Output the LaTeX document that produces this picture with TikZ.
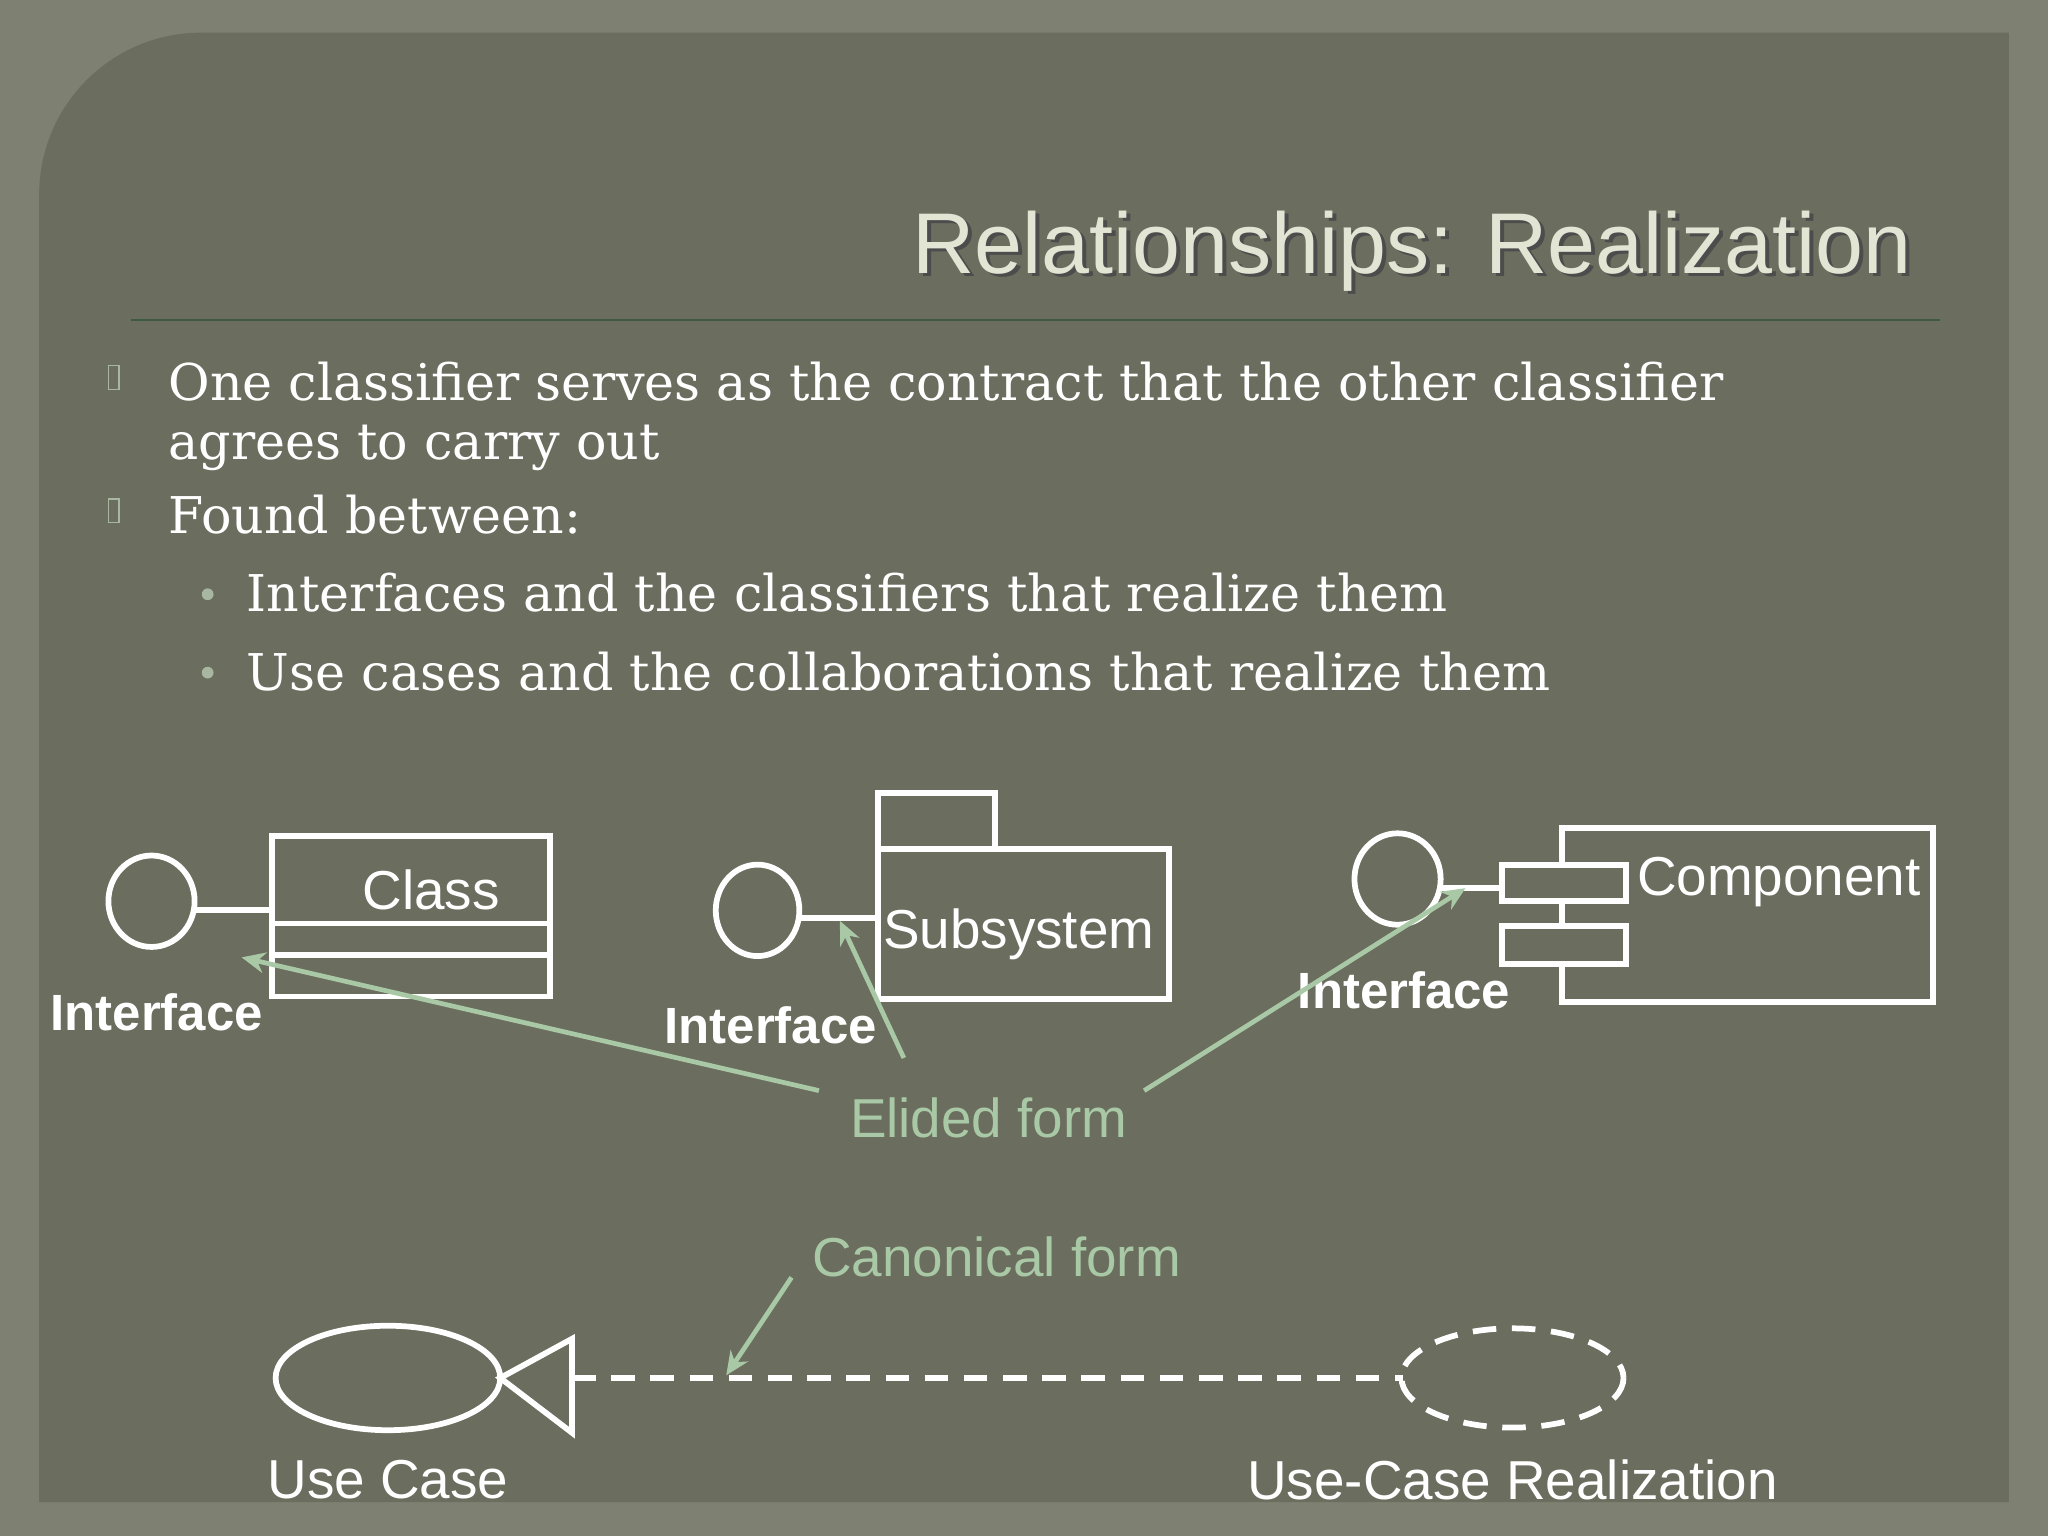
\documentclass[tikz,border=0pt]{standalone}
\usepackage{fontspec}
\setmainfont{DejaVu Serif}
\newfontfamily\lsans{Liberation Sans}
\usetikzlibrary{arrows.meta}
\definecolor{outerbg}{HTML}{7E8171}
\definecolor{panel}{HTML}{6B6D5E}
\definecolor{titlec}{HTML}{E2E4D4}
\definecolor{ruleg}{HTML}{3E5A40}
\definecolor{callout}{HTML}{A9C9A6}
\definecolor{bulletc}{HTML}{A8B8A0}
\begin{document}
\begin{tikzpicture}[x=0.5pt,y=-0.5pt,
  wl/.style={draw=white,line width=2.2pt},
  lab/.style={font=\lsans\fontsize{21}{25}\selectfont,text=white},
  blab/.style={font=\lsans\bfseries\fontsize{19.5}{23}\selectfont,text=white},
  body/.style={font=\fontsize{19.4}{25}\selectfont,text=white,anchor=west},
  call/.style={font=\lsans\fontsize{21}{25}\selectfont,text=callout},
  carr/.style={draw=callout,line width=1.8pt,-{Stealth[length=9pt,width=8pt]}}]
\useasboundingbox (0,0) rectangle (1568,1176);
\fill[outerbg] (0,0) rectangle (1568,1176);
\fill[panel] (1538,1150) -- (30,1150) [rounded corners=62pt] -- (30,25) [sharp corners] -- (1538,25) -- cycle;
% title
\node[font=\lsans\fontsize{33}{38}\selectfont,text=black!70,anchor=east] at (1474,195) {Relationships: Realization};
\node[font=\lsans\fontsize{33}{38}\selectfont,text=titlec,anchor=east] (title) at (1471,192) {Relationships: Realization};
\draw[ruleg,line width=1pt] (100,245) -- (1485,245);
% body
\draw[bulletc,line width=0.5pt] (83,280) rectangle (91,298);
\draw[bulletc,line width=0.5pt] (83,382) rectangle (91,400);
\node[body] (t1) at (122,292) {One classifier serves as the contract that the other classifier};
\node[body] (t2) at (122,343) {agrees to carry out};
\node[body] (t3) at (122,394) {Found between:};
\fill[bulletc] (159,455) circle (4.5);
\fill[bulletc] (159,515) circle (4.5);
\node[body] (t4) at (182,454) {Interfaces and the classifiers that realize them};
\node[body] (t5) at (182,514) {Use cases and the collaborations that realize them};
% Class
\draw[wl] (116,690) ellipse[x radius=33,y radius=35];
\coordinate (c1) at (149,697);
\draw[wl] (c1) -- (208,697);
\draw[wl] (208,640) rectangle (421,763);
\draw[wl] (208,707) -- (421,707);
\draw[wl] (208,731) -- (421,731);
\node[lab] (cls) at (330,681) {Class};
\node[blab] (i1) at (120,775) {Interface};
% Subsystem
\draw[wl] (672,607) rectangle (762,650);
\draw[wl] (672,650) rectangle (895,765);
\draw[wl] (580,697) ellipse[x radius=32,y radius=35];
\draw[wl] (612,703) -- (672,703);
\node[lab] (sub) at (780,715) {Subsystem};
\node[blab] (i2) at (590,785) {Interface};
% Component
\draw[wl] (1070,673) ellipse[x radius=33,y radius=35];
\draw[wl] (1103,680) -- (1150,680);
\draw[wl] (1196,634) rectangle (1480,767);
\draw[wl,fill=panel] (1150,662) rectangle (1245,690);
\draw[wl,fill=panel] (1150,709) rectangle (1245,738);
\node[lab] (comp) at (1362,675) {Component};
\node[blab] (i3) at (1075,758) {Interface};
% elided
\node[call] (el) at (757,856) {Elided form};
\coordinate (a1) at (185,733);
\coordinate (a2) at (643,705);
\coordinate (a3) at (1122,680);
\draw[carr] (627,835) -- (a1);
\draw[carr] (692,810) -- (a2);
\draw[carr] (876,835) -- (a3);
% canonical
\node[call] (can) at (763,962) {Canonical form};
\coordinate (a4) at (556,1053);
\draw[carr] (606,978) -- (a4);
\draw[wl] (297,1055) ellipse[x radius=86,y radius=40];
\draw[wl,line join=miter] (383,1055) -- (438,1025) -- (438,1097) -- cycle;
\draw[wl,dash pattern=on 9pt off 6pt] (438,1055) -- (1074,1055);
\draw[wl,dash pattern=on 9pt off 6pt] (1158,1055) ellipse[x radius=85,y radius=38];
\node[lab] (uc) at (297,1133) {Use Case};
\node[lab] (ucr) at (1158,1133) {Use-Case Realization};
\end{tikzpicture}
\end{document}
